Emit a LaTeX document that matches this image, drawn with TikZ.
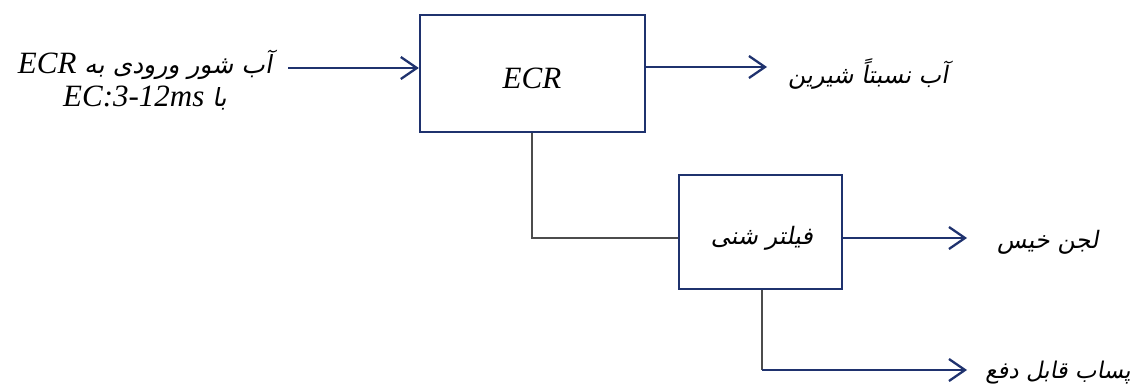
\documentclass[tikz,border=0pt]{standalone}
\usepackage{fontspec}
\setmainfont{Liberation Serif}
\newfontfamily\arabicfont[Script=Arabic,FakeSlant=0.18]{DejaVu Sans}
\TeXXeTstate=1
\usetikzlibrary{arrows.meta}
\definecolor{navy}{RGB}{31,50,110}
\newcommand\lat[1]{{\rmfamily\itshape\fontsize{31}{34}\selectfont #1}}
\tikzset{
  box/.style={draw=navy,line width=2.3pt,inner sep=0pt},
  flow/.style={draw=navy,line width=2.3pt,-{Straight Barb[length=16pt,width=22pt,line width=2.3pt]}},
  link/.style={draw=black!70,line width=1.3pt},
  fa/.style={font=\arabicfont\fontsize{24}{30}\selectfont,inner sep=0pt},
}
\begin{document}
\begin{tikzpicture}[x=1pt,y=-1pt]
\useasboundingbox (0,0) rectangle (1132,389);
\node[box,minimum width=225pt,minimum height=117pt] (ecr) at (532.5,73.5) {};
\node (ecrt) at (532,78) {\lat{ECR}};
\node[box,minimum width=163pt,minimum height=114pt] (filt) at (760.5,232) {};
\node[fa] (filtt) at (762,238) {\beginR فیلتر شنی\endR};
\node[fa,align=center,font=\arabicfont\fontsize{25}{31}\selectfont] (inp) at (145,80) {\beginR آب شور ورودی به \beginL\lat{ECR}\endL\endR\\[2pt]\beginR با \beginL\lat{EC:3-12ms}\endL\endR};
\node[fa,anchor=west] (out1) at (788,74) {\beginR آب نسبتاً شیرین\endR};
\node[fa,anchor=west] (out2) at (997,242) {\beginR لجن خیس\endR};
\node[fa,anchor=east,font=\arabicfont\fontsize{23}{30}\selectfont] (out3) at (1131,373) {\beginR پساب قابل دفع\endR};
\coordinate (inS) at (288,68);
\coordinate (o1) at (767,67);
\coordinate (o2) at (967,238);
\coordinate (o3) at (967,370);
\draw[flow] (inS) -- (ecr.west |- inS);
\draw[flow] (ecr.east |- o1) -- (o1);
\draw[flow] (filt.east |- o2) -- (o2);
\draw[link] (ecr.south -| 532,0) |- (filt.west |- 0,238);
\draw[link] (filt.south -| 762,0) -- (762,370);
\draw[flow] (762,370) -- (o3);
\end{tikzpicture}
\end{document}
